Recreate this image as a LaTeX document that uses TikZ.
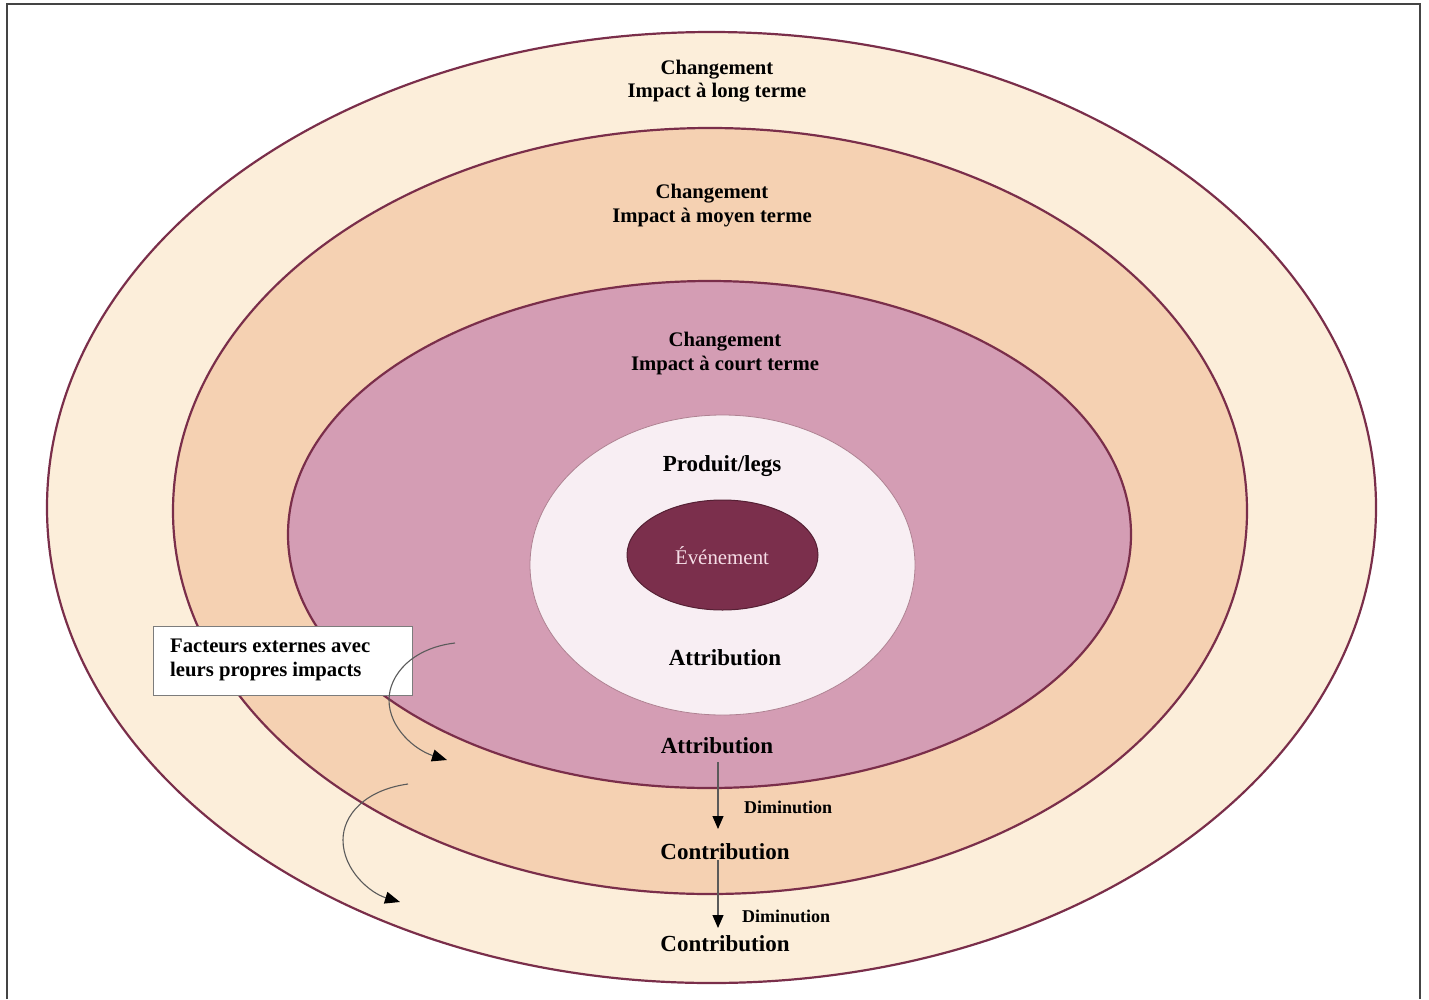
\documentclass[tikz,border=0pt]{standalone}
\usepackage{fontspec}
\setmainfont{Liberation Serif}
\usetikzlibrary{shapes.geometric,arrows.meta}
\definecolor{cream}{HTML}{FCEEDA}
\definecolor{peach}{HTML}{F5D1B2}
\definecolor{mauve}{HTML}{D49DB4}
\definecolor{pale}{HTML}{F8EEF3}
\definecolor{wine}{HTML}{7B2F4C}
\definecolor{rim}{HTML}{7A2E4A}
\definecolor{evtext}{HTML}{F5DDE6}
\definecolor{frame}{HTML}{444444}
\definecolor{curve}{HTML}{5A5A5A}
\tikzset{
  ring/.style={ellipse, draw=rim, line width=2.2pt, inner sep=0pt},
  bigtxt/.style={font=\bfseries\fontsize{20.7}{23.5}\selectfont, align=center, inner sep=0pt, text=black},
  lbl/.style={font=\bfseries\fontsize{23}{26}\selectfont, inner sep=0pt, text=black},
  dimtxt/.style={font=\bfseries\fontsize{18}{20}\selectfont, inner sep=0pt, text=black},
  downarr/.style={draw=curve, line width=1.1pt, -{Triangle[length=13pt,width=11pt,color=black]}},
  curvarr/.style={draw=curve, line width=1.1pt, -{Triangle[length=15pt,width=12pt,color=black]}},
}
\begin{document}
\begin{tikzpicture}[x=1pt,y=-1pt]
\useasboundingbox (0,0) rectangle (1429,999);
\draw[frame, line width=2.4pt] (7,999) -- (7,4) -- (1420,4) -- (1420,999);
% rings
\node[ring, fill=cream, minimum width=1329pt, minimum height=951pt] (outer) at (711.5,507.5) {};
\node[ring, fill=peach, minimum width=1074pt, minimum height=766pt] (middle) at (710,511) {};
\node[ring, fill=mauve, minimum width=843pt, minimum height=507pt] (inner) at (709.5,534.5) {};
\node[ellipse, draw=rim!60, line width=0.8pt, fill=pale, inner sep=0pt, minimum width=385pt, minimum height=300pt] (product) at (722.5,565) {};
\node[ellipse, draw=rim!70!black, line width=1pt, fill=wine, inner sep=0pt, minimum width=191pt, minimum height=110pt] (event) at (722.5,555) {};
% texts
\node[bigtxt] (long) at (717,81) {Changement\\Impact à long terme};
\node[bigtxt] (moyen) at (712,205.5) {Changement\\Impact à moyen terme};
\node[bigtxt] (court) at (725,353.5) {Changement\\Impact à court terme};
\node[lbl] (produit) at (722,466.5) {Produit/legs};
\node[font=\fontsize{20.9}{24}\selectfont, text=evtext, inner sep=0pt] (evt) at (722,556) {Événement};
\node[lbl] (attr1) at (725,657.5) {Attribution};
\node[lbl] (attr2) at (717,745.5) {Attribution};
\node[lbl] (contrib1) at (725,851.5) {Contribution};
\node[lbl] (contrib2) at (725,943.5) {Contribution};
\node[dimtxt, anchor=west] (dim1) at (744,807) {Diminution};
\node[dimtxt, anchor=west] (dim2) at (742,916) {Diminution};
% box
\node[draw=frame!70, line width=1pt, fill=white, minimum width=259pt, minimum height=69pt, inner sep=0pt] (facteurs) at (282.5,660.5) {};
\node[bigtxt, align=left, anchor=west] (factxt) at (170,660) {Facteurs externes avec\\leurs propres impacts};
% vertical arrows
\coordinate (a1s) at (718,762);
\coordinate (a1e) at (718,829);
\coordinate (a2s) at (718,860);
\coordinate (a2e) at (718,928);
\draw[downarr] (a1s) -- (a1e);
\draw[downarr] (a2s) -- (a2e);
% curved arrows
\coordinate (c1s) at (455,643);
\coordinate (c1m) at (389,700);
\coordinate (c1e) at (447,760);
\coordinate (c2s) at (408,784);
\coordinate (c2m) at (343,840);
\coordinate (c2e) at (400,902);
\draw[curvarr] (c1s) .. controls (412,648) and (389,675) .. (c1m) .. controls (389,728) and (415,750) .. (c1e);
\draw[curvarr] (c2s) .. controls (365,790) and (343,815) .. (c2m) .. controls (343,870) and (370,893) .. (c2e);
\end{tikzpicture}
\end{document}
